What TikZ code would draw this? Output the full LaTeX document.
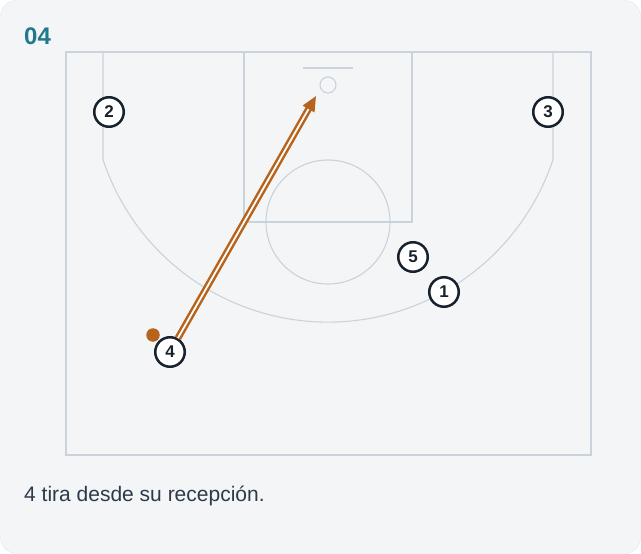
\documentclass[tikz,border=0pt]{standalone}
\usepackage{fontspec}
\setmainfont{Liberation Sans}
\usetikzlibrary{arrows.meta}
\definecolor{cardbg}{HTML}{F3F5F7}
\definecolor{cardline}{HTML}{E4E7EB}
\definecolor{courtline}{HTML}{CAD3DB}
\definecolor{playerink}{HTML}{18212E}
\definecolor{titleteal}{HTML}{22788C}
\definecolor{captionink}{HTML}{2E3A4A}
\definecolor{shotorange}{HTML}{B8631C}
\begin{document}
\begin{tikzpicture}[x=1pt, y=-1pt,
  court/.style={draw=courtline, line width=1.1pt},
  player/.style={circle, draw=playerink, line width=2.5pt, fill=white, minimum size=29.5pt, inner sep=0pt, font=\fontsize{17}{17}\selectfont\bfseries, text=playerink},
  ball/.style={circle, fill=shotorange, minimum size=13.5pt, inner sep=0pt},
  shot/.style={draw=shotorange, double=white, line width=2.5pt, double distance=1.8pt, -{Triangle[length=15pt, width=13pt]}}]
\useasboundingbox (0,0) rectangle (641,554);
% card
\fill[cardbg, draw=cardline, rounded corners=16pt] (0.5,0.5) rectangle (640.5,553.5);
\node[anchor=base west, text=titleteal, font=\fontsize{24}{24}\selectfont\bfseries, inner sep=0pt] (title) at (24,44) {04};
% court
\draw[court] (66,52) rectangle (591,455);
\draw[court] (244,52) -- (244,222) -- (412,222) -- (412,52);
\draw[court] (328,222) circle[radius=62pt];
\draw[court] (303,68) -- (353,68);
\draw[court] (328,85) circle[radius=8pt];
\draw[court] (103,52) -- (103,159.5) arc[start angle=161.7, end angle=18.3, radius=237] -- (553,52);
% players
\node[player] (p2) at (109,112) {2};
\node[player] (p3) at (548,112) {3};
\node[player] (p5) at (413,257) {5};
\node[player] (p1) at (444,292) {1};
\node[ball] (ball) at (153,335) {};
\node[player] (p4) at (170,352) {4};
% shot
\coordinate (rim) at (316,96);
\draw[shot] (p4) -- (rim);
\node[anchor=base west, text=captionink, font=\fontsize{21}{21}\selectfont, inner sep=0pt] (caption) at (24,501) {4 tira desde su recepción.};
\end{tikzpicture}
\end{document}
